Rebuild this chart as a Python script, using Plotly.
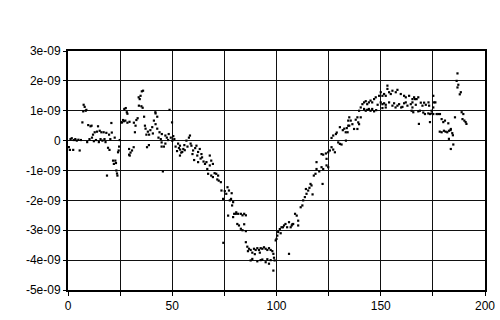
import plotly.graph_objects as go

# Data: (x, y in units of 1e-9)
seg_a = [(0.4,-0.22),(0.9,-0.31),(1.2,0.05),(1.8,0.08),(2.5,-0.31),(2.8,0.02),(3.5,0.05),(4.2,0.0),(5.0,0.03),(5.6,-0.33),(6.2,0.02),(6.9,0.61),(7.3,0.98),(7.5,1.2),(8.0,1.13),(8.5,1.0),(8.8,1.03),(9.2,-0.05),(9.7,0.52),(10.3,0.05),(10.8,0.48),(11.3,0.5),(11.5,0.1),(12.0,0.2),(12.4,-0.02),(12.8,0.28),(13.4,0.02),(13.9,0.3),(14.4,0.48),(14.8,-0.05),(15.2,0.33),(15.6,0.05),(16.0,0.28),(16.5,0.0),(17.1,0.28),(17.5,0.05),(18.0,-0.05),(18.4,0.26),(18.7,-1.17),(19.2,-0.24),(19.7,0.2),(19.9,-0.31),(20.3,0.05),(20.8,0.59),(21.0,0.27),(21.6,-0.67),(22.0,-0.78),(22.4,0.1),(22.7,-0.67),(23.0,-0.75),(23.2,-1.0),(23.5,-1.1),(23.7,-1.17),(24.0,-0.39),(24.3,-0.33),(24.5,-0.2),(24.8,0.02),(25.6,0.61),(25.9,0.61)]
seg_b = [(26.4,0.69),(26.9,0.65),(27.0,1.06),(27.5,0.67),(27.7,1.09),(28.2,0.95),(28.5,0.6),(28.5,0.9),(29.3,-0.28),(29.3,-0.47),(29.6,-0.5),(29.5,0.63),(30.0,-0.4),(30.7,-0.33),(31.5,-0.22),(31.6,0.6),(32.1,0.28),(32.4,0.5),(32.8,0.69),(33.4,0.75),(33.9,1.45),(34.0,1.17),(34.4,1.39),(34.8,1.5),(35.2,1.15),(35.4,1.65),(35.8,1.1),(36.0,1.67),(36.5,0.8),(36.9,0.5),(37.2,0.4),(37.6,0.2),(37.9,-0.22),(38.3,0.3),(38.8,-0.15),(38.9,0.2),(39.5,0.35),(40.4,0.45),(40.7,0.24),(41.2,0.67),(41.9,0.95),(42.0,0.91),(42.0,0.55),(42.8,0.8),(42.8,0.4),(43.4,0.1),(43.9,0.28),(44.5,0.05),(44.9,-0.06),(44.9,-0.2),(45.0,0.22),(45.5,-1.03),(46.0,-0.2),(46.7,0.17),(46.7,-0.1),(47.4,0.1),(48.0,0.02),(48.3,0.22),(48.7,1.03),(49.3,0.1),(49.9,0.61),(50.0,0.0)]
seg_c = [(50.5,0.15),(51.0,0.05),(51.6,-0.2),(52.3,-0.35),(52.8,-0.1),(53.2,-0.25),(53.7,-0.17),(53.7,-0.5),(53.8,-0.3),(54.3,-0.4),(54.8,-0.38),(55.3,-0.28),(55.8,-0.15),(56.0,-0.32),(56.8,0.0),(57.3,-0.2),(58.0,0.1),(58.5,0.17),(58.8,-0.1),(59.2,-0.17),(59.7,-0.45),(60.0,-0.33),(60.5,-0.65),(61.0,-0.25),(61.6,-0.17),(62.0,-0.5),(62.4,-0.38),(62.4,-0.72),(63.2,-0.28),(63.6,-0.6),(64.0,-0.45),(64.3,-0.56),(65.0,-0.7),(65.7,-0.78),(66.4,-0.72),(66.8,-0.95),(67.2,-1.11),(68.0,-0.5),(68.0,-0.83),(68.7,-0.67),(68.7,-1.17),(69.5,-0.78),(69.5,-1.22),(70.3,-1.09),(71.1,-1.11),(71.6,-1.3),(72.0,-1.17),(72.3,-1.34),(73.3,-1.39),(73.6,-1.67),(74.4,-1.95),(74.5,-3.42),(75.2,-1.69),(75.9,-1.78),(76.5,-1.56),(76.8,-2.51),(77.2,-1.67),(77.6,-2.0),(78.2,-1.95),(78.5,-1.76),(78.7,-2.17),(79.2,-2.06),(79.2,-2.56),(79.7,-2.45),(80.7,-2.4)]
seg_d = [(80.5,-2.45),(81.2,-2.79),(81.6,-2.45),(82.0,-2.84),(82.9,-2.45),(82.9,-2.95),(83.7,-2.5),(83.7,-3.0),(84.5,-2.45),(84.5,-2.8),(85.3,-2.5),(85.3,-3.03),(85.3,-3.4),(86.0,-3.55),(86.3,-3.7),(86.8,-3.62),(87.6,-3.66),(87.6,-4.01),(88.4,-3.75),(88.4,-3.96),(89.2,-3.62),(89.6,-3.8),(90.0,-3.66),(90.8,-3.6),(90.8,-4.04),(91.6,-3.66),(92.0,-3.75),(92.4,-3.6),(92.4,-4.0),(93.2,-3.62),(93.2,-3.98),(94.0,-3.57),(94.8,-3.62),(94.8,-4.07),(95.6,-3.66),(95.6,-3.97),(96.4,-3.6),(96.4,-4.12),(97.2,-3.66),(97.2,-4.0),(98.0,-3.7),(98.5,-3.79),(98.5,-4.35),(98.8,-3.92),(99.1,-4.01),(99.6,-3.34)]
seg_e = [(100.0,-3.29),(100.4,-3.18),(100.8,-3.06),(101.6,-2.96),(102.0,-3.1),(102.4,-2.9),(103.1,-2.9),(103.6,-2.84),(104.3,-2.79),(105.1,-2.9),(106.0,-2.73),(106.0,-3.79),(106.8,-2.9),(107.3,-2.84),(107.6,-2.8),(108.0,-2.79),(108.9,-2.45),(109.7,-2.51),(110.4,-2.68),(110.4,-2.84),(111.6,-2.23),(112.4,-2.17),(112.8,-2.0),(113.6,-1.89),(114.1,-1.62),(114.4,-1.78),(115.2,-1.67),(115.8,-1.58),(116.3,-1.45),(116.8,-1.5),(117.3,-1.8),(117.9,-1.17),(118.7,-1.11),(119.2,-0.95),(119.2,-0.72),(120.5,-1.03),(121.6,-0.89),(121.6,-0.45),(122.1,-1.45),(122.4,-0.95),(122.4,-0.47),(123.7,-0.43),(124.0,-0.83),(124.0,-0.61),(124.8,-0.89),(124.8,-0.39),(125.6,-0.33),(126.4,-0.22),(126.4,0.09),(127.2,-0.3),(127.2,0.17),(128.0,-0.39),(128.5,0.22),(128.9,0.27),(129.6,-0.06),(130.4,-0.11),(130.4,0.45),(131.2,-0.13),(131.8,0.35),(132.5,0.4),(133.2,0.28),(133.3,0.0),(133.7,0.42),(134.1,0.28),(134.4,0.5),(134.4,0.67),(134.9,0.78),(134.9,0.5)]
seg_f = [(135.6,0.67),(136.4,0.55),(137.2,0.39),(138.0,0.7),(138.8,0.39),(138.8,0.78),(139.2,0.61),(139.6,0.55),(139.6,1.0),(140.4,0.78),(140.4,1.11),(141.2,1.22),(142.0,1.28),(142.0,1.06),(142.8,1.32),(142.8,1.0),(143.5,1.22),(143.5,1.03),(144.3,1.28),(144.3,1.06),(145.1,1.34),(145.1,1.0),(145.9,1.28),(145.9,1.06),(146.8,1.39),(146.8,0.98),(147.6,1.45),(147.8,1.02),(148.5,1.2),(149.2,1.5),(150.0,1.62),(150.0,1.28),(150.8,1.5),(150.8,1.22),(150.8,1.09),(151.6,1.56),(151.6,1.25),(152.4,1.5),(152.4,1.2),(152.4,1.11),(153.2,1.84),(153.2,1.73),(154.0,1.62),(154.0,1.28),(154.8,1.56),(155.6,1.67),(155.6,1.17),(156.4,1.25),(157.1,1.11),(157.2,1.62),(158.0,1.7),(158.0,1.17),(158.8,1.22),(159.6,1.56),(159.8,1.11),(160.4,1.13),(161.2,1.5),(161.2,1.25),(162.0,1.45),(162.0,1.28),(162.8,1.17),(163.6,1.5),(164.4,1.22),(164.8,1.0),(165.2,1.39),(165.2,1.28),(165.2,1.11)]
seg_g = [(165.6,0.95),(166.0,1.45),(166.4,1.39),(166.8,1.2),(167.2,1.39),(168.0,1.45),(168.0,0.98),(168.3,0.56),(168.8,1.0),(169.2,1.27),(170.0,1.17),(170.4,0.94),(170.8,1.27),(171.2,0.89),(171.6,1.2),(172.8,0.91),(172.9,1.28),(173.2,1.17),(173.6,0.89),(173.6,0.62),(174.4,1.0),(174.4,0.91),(175.2,1.5),(175.2,1.11),(175.2,0.89),(175.6,1.28),(176.2,1.28),(176.8,0.89),(177.6,0.89),(178.3,0.3),(178.4,0.89),(179.2,0.72),(179.2,0.28),(180.0,0.62),(180.3,0.33),(180.8,0.67),(181.1,0.3),(181.9,0.28),(182.4,0.58),(182.7,0.33),(182.7,0.06),(183.5,0.35),(183.6,0.39),(183.6,-0.28),(184.3,0.25),(184.6,0.18),(184.8,-0.13),(185.6,0.78),(186.4,2.0),(186.8,2.25),(186.8,1.78),(187.2,1.87),(187.9,1.55),(188.4,1.62),(188.8,0.95),(189.2,0.72),(189.6,0.89),(190.1,0.67),(190.7,0.62),(191.1,0.56)]

x_tickvals = [0, 25, 50, 75, 100, 125, 150, 175, 200]
x_ticktext = ["0", "", "50", "", "100", "", "150", "", "200"]
y_tickvals = [3e-9, 2e-9, 1e-9, 0, -1e-9, -2e-9, -3e-9, -4e-9, -5e-9]
y_ticktext = ["3e-09", "2e-09", "1e-09", "0", "-1e-09", "-2e-09", "-3e-09", "-4e-09", "-5e-09"]

points = seg_a + seg_b + seg_c + seg_d + seg_e + seg_f + seg_g
xs = [p[0] for p in points]
ys = [p[1] * 1e-9 for p in points]

fig = go.Figure(go.Scatter(
    x=xs, y=ys, mode="markers",
    marker=dict(color="black", size=2.2, symbol="square", line=dict(width=0)),
))

font = dict(family="Liberation Sans, Arial, sans-serif", size=12, color="black")
fig.update_layout(
    width=500, height=320,
    margin=dict(l=68, r=15, t=51, b=30, autoexpand=False),
    paper_bgcolor="white", plot_bgcolor="white",
    showlegend=False, font=font,
)
fig.update_xaxes(
    range=[0, 200], tickvals=x_tickvals, ticktext=x_ticktext,
    showgrid=True, gridcolor="#111", gridwidth=1,
    showline=True, linecolor="black", linewidth=2, mirror=True,
    ticks="outside", ticklen=4, tickcolor="black", tickwidth=1,
    zeroline=False, tickfont=font, automargin=False,
)
fig.update_yaxes(
    range=[-5e-9, 3e-9], tickvals=y_tickvals, ticktext=y_ticktext,
    showgrid=True, gridcolor="#111", gridwidth=1,
    showline=True, linecolor="black", linewidth=2, mirror=True,
    ticks="outside", ticklen=3, tickcolor="black", tickwidth=1,
    zeroline=False, tickfont=font, automargin=False,
)

fig.write_html("out.html")
